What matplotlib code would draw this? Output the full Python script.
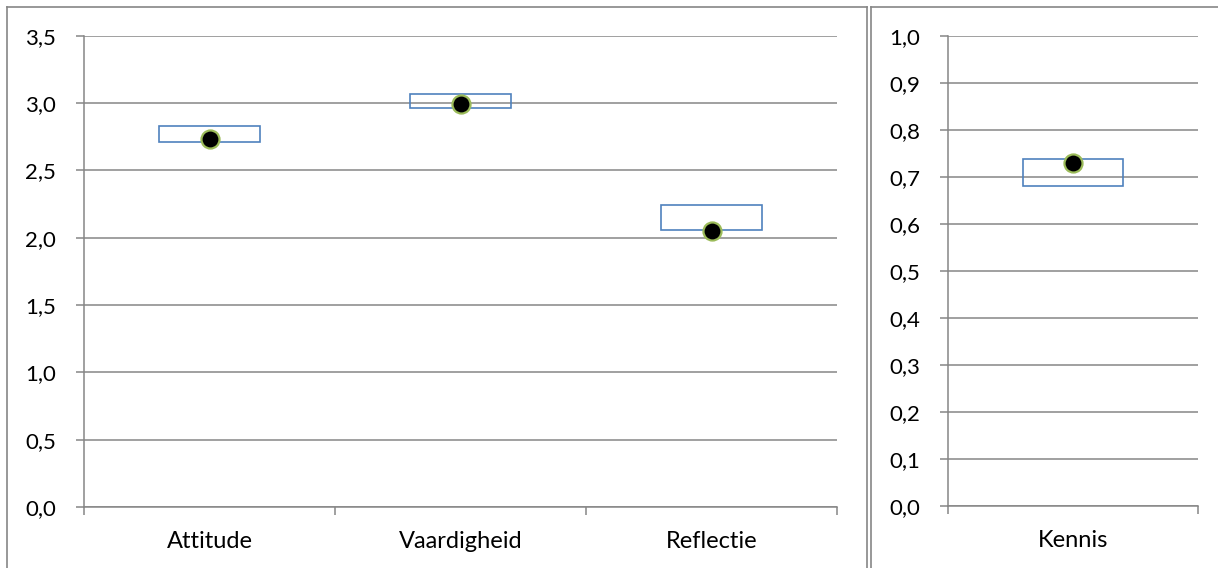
import matplotlib
matplotlib.use("Agg")
import matplotlib.pyplot as plt
from matplotlib.lines import Line2D
from matplotlib.ticker import FuncFormatter, MultipleLocator, FixedLocator
import numpy as np

plt.rcParams['font.family'] = ['Lato', 'DejaVu Sans']

# Data
categories_left = ["Attitude", "Vaardigheid", "Reflectie"]
low_left = [2.71, 2.96, 2.06]
high_left = [2.83, 3.07, 2.24]
mean_left = [2.73, 2.99, 2.05]

categories_right = ["Kennis"]
low_right = [0.68]
high_right = [0.738]
mean_right = [0.729]

W, H = 1218, 568
fig = plt.figure(figsize=(W / 100, H / 100), dpi=100)

GRAY = "#868686"
BLUE = "#4F81BD"
GREEN = "#9BBB59"
FS_Y = 16
FS_X = 17

comma = FuncFormatter(lambda v, p: f"{v:.1f}".replace(".", ","))


def make_axes(rect, cats, low, high, mean, ymax, ystep):
    ax = fig.add_axes(rect)
    n = len(cats)
    x = np.arange(n) + 0.5
    ax.set_xlim(0, n)
    ax.set_ylim(0, ymax)
    ax.yaxis.set_major_locator(MultipleLocator(ystep))
    ax.yaxis.set_major_formatter(comma)
    ax.grid(axis="y", color=GRAY, linewidth=1.1, zorder=0)
    ax.set_axisbelow(True)
    for s in ["top", "right"]:
        ax.spines[s].set_visible(False)
    for s in ["left", "bottom"]:
        ax.spines[s].set_color(GRAY)
        ax.spines[s].set_linewidth(1.1)
    ax.xaxis.set_major_locator(FixedLocator(x))
    ax.set_xticklabels(cats)
    ax.xaxis.set_minor_locator(FixedLocator(np.arange(n + 1)))
    ax.tick_params(axis="x", which="major", length=0, pad=17, labelsize=FS_X)
    ax.tick_params(axis="x", which="minor", length=6, width=1.1, color=GRAY)
    ax.tick_params(axis="y", length=6, width=1.1, color=GRAY, pad=14, labelsize=FS_Y)
    hi = np.array(high)
    lo = np.array(low)
    ax.bar(x, hi - lo, bottom=lo, width=0.4, facecolor="none",
           edgecolor=BLUE, linewidth=1.2, zorder=3)
    ax.plot(x, mean, "o", markerfacecolor="black", markeredgecolor=GREEN,
            markersize=13, markeredgewidth=1.6, zorder=4, clip_on=False)
    return ax


make_axes([84 / W, (H - 507) / H, 753 / W, 471.3 / H],
          categories_left, low_left, high_left, mean_left, 3.5, 0.5)
make_axes([947.7 / W, (H - 506) / H, 250 / W, 470.3 / H],
          categories_right, low_right, high_right, mean_right, 1.0, 0.1)


def fline(x0, y0, x1, y1):
    fig.add_artist(Line2D([x0 / W, x1 / W], [1 - y0 / H, 1 - y1 / H],
                          transform=fig.transFigure, color=GRAY, linewidth=1.2))


# panel borders
fline(7.3, 6.7, 867, 6.7)
fline(7.3, 6.7, 7.3, 570)
fline(867, 6.7, 867, 570)
fline(870.7, 6.7, 1220, 6.7)
fline(870.7, 6.7, 870.7, 570)

fig.savefig("out.png", dpi=100)
